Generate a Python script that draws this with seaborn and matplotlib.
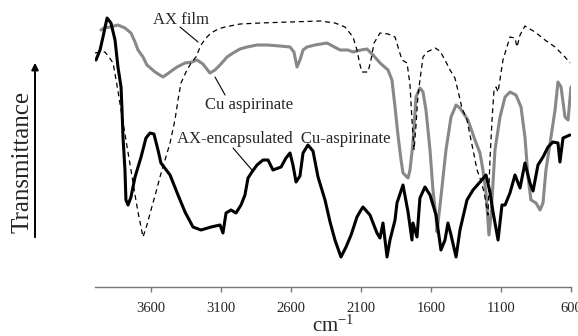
import matplotlib
matplotlib.use("Agg")
import matplotlib.pyplot as plt
import seaborn as sns
import pandas as pd

# ---- data (wavenumber in cm-1, transmittance in arbitrary units) ----
encap_wn = [3993, 3964, 3943, 3914, 3886, 3857, 3836, 3814, 3807, 3800, 3786, 3779, 3764, 3743,
            3714, 3671, 3636, 3607, 3579, 3550, 3529, 3464, 3407, 3357, 3300, 3243, 3171, 3107,
            3086, 3064, 3029, 2993, 2957, 2929, 2907, 2879, 2843, 2800, 2764, 2729, 2671, 2636,
            2607, 2586, 2564, 2536, 2514, 2479, 2443, 2407, 2357, 2321, 2286, 2243, 2207, 2171,
            2129, 2100, 2086, 2036, 1986, 1964, 1943, 1914, 1893, 1857, 1843, 1800, 1764, 1736,
            1729, 1700, 1679, 1643, 1607, 1564, 1529, 1500, 1479, 1457, 1421, 1393, 1343, 1300,
            1250, 1207, 1179, 1157, 1121, 1093, 1071, 1036, 1000, 964, 929, 893, 871, 836, 800,
            764, 729, 693, 679, 657, 607]
encap_t = [227, 237, 250, 269, 264, 247, 220, 200, 177, 150, 117, 87, 82, 90,
           110, 130, 149, 154, 153, 137, 124, 112, 92, 75, 60, 57, 60, 62,
           54, 74, 77, 74, 82, 92, 109, 115, 122, 127, 127, 117, 120, 129,
           134, 122, 105, 111, 134, 142, 136, 110, 87, 65, 47, 30, 40, 52,
           70, 77, 80, 72, 54, 49, 64, 30, 47, 67, 84, 102, 75, 47,
           64, 50, 89, 100, 92, 72, 37, 47, 64, 52, 30, 57, 87, 97,
           105, 112, 95, 75, 47, 82, 82, 94, 112, 99, 124, 104, 96, 122, 130,
           140, 145, 144, 125, 149, 152]

cu_wn = [3957, 3936, 3893, 3836, 3786, 3743, 3714, 3693, 3657, 3629, 3571, 3514, 3464, 3414,
         3357, 3307, 3271, 3229, 3179, 3143, 3107, 3057, 3014, 2964, 2914, 2843, 2771, 2679,
         2607, 2579, 2557, 2536, 2514, 2486, 2429, 2343, 2250, 2193, 2157, 2100, 2057, 2014,
         1964, 1907, 1879, 1857, 1836, 1814, 1800, 1764, 1750, 1729, 1707, 1679, 1657, 1636,
         1607, 1586, 1564, 1557, 1529, 1493, 1457, 1421, 1393, 1336, 1286, 1250, 1229, 1207,
         1186, 1171, 1143, 1107, 1071, 1036, 993, 957, 929, 907, 886, 850, 821, 800, 779,
         743, 714, 693, 671, 643, 621, 600]
cu_t = [257, 259, 260, 262, 259, 254, 245, 237, 230, 222, 215, 210, 215, 220,
        224, 225, 227, 223, 214, 217, 222, 230, 234, 238, 240, 242, 242, 241,
        240, 235, 220, 227, 237, 240, 242, 244, 237, 237, 235, 237, 238, 232,
        224, 217, 207, 180, 152, 127, 114, 109, 117, 144, 190, 199, 195, 177,
        137, 97, 70, 55, 90, 137, 170, 182, 179, 167, 147, 134, 117, 94,
        52, 72, 137, 170, 190, 195, 192, 180, 150, 110, 87, 84, 77, 84, 117,
        150, 177, 205, 200, 170, 167, 200]

film_wn = [4000, 3964, 3929, 3900, 3871, 3843, 3814, 3779, 3743, 3714, 3693, 3657, 3629, 3600,
           3564, 3536, 3500, 3464, 3429, 3407, 3386, 3350, 3314, 3279, 3243, 3207, 3171, 3121,
           3071, 2964, 2821, 2607, 2393, 2286, 2214, 2157, 2129, 2107, 2093, 2050, 2029, 2007,
           1964, 1907, 1857, 1829, 1807, 1771, 1750, 1736, 1721, 1707, 1693, 1679, 1657, 1629,
           1571, 1536, 1500, 1464, 1429, 1400, 1379, 1343, 1307, 1271, 1250, 1221, 1193, 1179,
           1164, 1150, 1136, 1121, 1086, 1036, 1000, 986, 964, 929, 857, 786, 714, 643, 607]
film_t = [234, 235, 235, 230, 224, 202, 177, 147, 117, 92, 75, 50, 62, 77,
          95, 110, 127, 144, 167, 187, 204, 215, 224, 230, 242, 249, 254, 258,
          260, 263, 264, 265, 266, 264, 260, 250, 237, 222, 215, 215, 227, 244,
          254, 253, 250, 237, 227, 224, 202, 167, 137, 162, 192, 207, 230, 235,
          239, 236, 227, 217, 209, 192, 179, 167, 142, 117, 109, 95, 72, 127,
          167, 197, 200, 195, 227, 250, 249, 240, 252, 261, 255, 247, 240, 230, 224]

xticks = [3600, 3100, 2600, 2100, 1600, 1100, 600]

# ---- style ----
sns.set_style("white")
plt.rcParams["font.family"] = ["Liberation Serif", "DejaVu Serif"]
plt.rcParams["mathtext.fontset"] = "custom"
plt.rcParams["mathtext.rm"] = "Liberation Serif"
plt.rcParams["mathtext.it"] = "Liberation Serif:italic"

fig = plt.figure(figsize=(5.78, 3.36), dpi=100)
W, H = 578, 336
ax = fig.add_axes([95 / W, (H - 287) / H, (571 - 95) / W, 287 / H])

df_cu = pd.DataFrame({"wn": cu_wn, "T": cu_t})
df_enc = pd.DataFrame({"wn": encap_wn, "T": encap_t})
df_film = pd.DataFrame({"wn": film_wn, "T": film_t})

sns.lineplot(data=df_cu, x="wn", y="T", sort=False, estimator=None, ax=ax,
             color="#888888", linewidth=2.2)
sns.lineplot(data=df_enc, x="wn", y="T", sort=False, estimator=None, ax=ax,
             color="black", linewidth=2.2)
sns.lineplot(data=df_film, x="wn", y="T", sort=False, estimator=None, ax=ax,
             color="black", linewidth=0.9, linestyle=(0, (4, 3)))

ax.set_xlim(4000, 600)
ax.set_ylim(0, 287)
ax.set_xticks(xticks)
ax.set_xticklabels([str(v) for v in xticks], fontsize=10.5)
ax.set_yticks([])
for s in ["top", "right", "left"]:
    ax.spines[s].set_visible(False)
ax.spines["bottom"].set_color("#777777")
ax.spines["bottom"].set_linewidth(1.0)
ax.tick_params(axis="x", direction="out", length=3.5, width=1.0, color="#777777", pad=7,
               bottom=True)

ax.set_xlabel(r"$\mathrm{cm^{-1}}$", fontsize=15, labelpad=1)
ax.set_ylabel("Transmittance", fontsize=18, va="center")
ax.yaxis.set_label_coords((23 - 95) / 476, (287 - 162) / 287)

# arrow next to the y label
ax.annotate("", xy=(35 / W, (H - 60) / H), xytext=(35 / W, (H - 240) / H),
            xycoords="figure fraction", textcoords="figure fraction",
            arrowprops=dict(arrowstyle="-|>", color="black", lw=1.4, mutation_scale=10))

# curve labels with leader lines
ax.text(3386, 267, "AX film", fontsize=12, ha="center", va="center")
ax.plot([3393, 3264], [260, 245], color="black", lw=0.8)
ax.text(2900, 182, "Cu aspirinate", fontsize=12, ha="center", va="center")
ax.plot([3143, 3071], [210, 192], color="black", lw=0.8)
ax.text(3414, 148, "AX-encapsulated  Cu-aspirinate", fontsize=12, ha="left", va="center")
ax.plot([3014, 2879], [139, 117], color="black", lw=0.8)

fig.savefig("out.png", dpi=100)
